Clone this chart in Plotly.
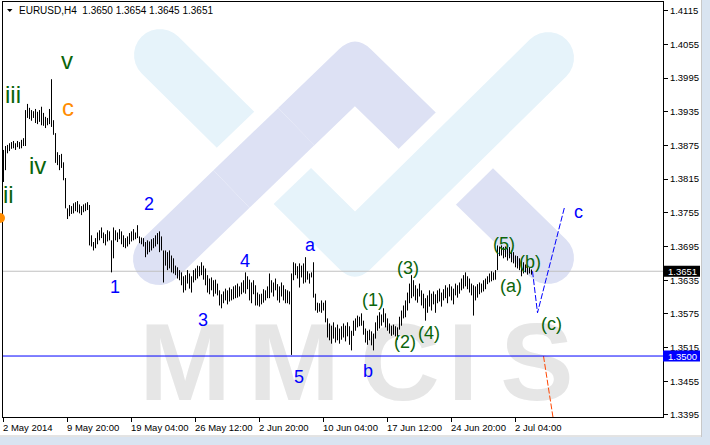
import math
import plotly.graph_objects as go

# ---------------- data ----------------
HIGH = [
    1.3867, 1.3874, 1.3876, 1.3879, 1.3881, 1.3883, 1.3879, 1.3883, 1.3881, 1.3885,
    1.3888, 1.3938, 1.3949, 1.3942, 1.3938, 1.3936, 1.3940, 1.3935, 1.3938, 1.3944,
    1.3933, 1.3926, 1.3924, 1.3940, 1.3993, 1.3920, 1.3897, 1.3863, 1.3858, 1.3860,
    1.3845, 1.3817, 1.3763, 1.3769, 1.3767, 1.3772, 1.3774, 1.3776, 1.3770, 1.3767,
    1.3770, 1.3772, 1.3774, 1.3769, 1.3715, 1.3703, 1.3710, 1.3720, 1.3724, 1.3729,
    1.3720, 1.3717, 1.3724, 1.3722, 1.3706, 1.3729, 1.3724, 1.3720, 1.3726, 1.3722,
    1.3715, 1.3710, 1.3713, 1.3719, 1.3722, 1.3726, 1.3720, 1.3733, 1.3713, 1.3711,
    1.3710, 1.3703, 1.3706, 1.3704, 1.3708, 1.3710, 1.3715, 1.3719, 1.3722, 1.3713,
    1.3688, 1.3688, 1.3685, 1.3688, 1.3679, 1.3674, 1.3661, 1.3658, 1.3653, 1.3649,
    1.3642, 1.3644, 1.3653, 1.3647, 1.3642, 1.3653, 1.3656, 1.3661, 1.3660, 1.3667,
    1.3661, 1.3656, 1.3644, 1.3638, 1.3640, 1.3635, 1.3636, 1.3629, 1.3617, 1.3610,
    1.3615, 1.3620, 1.3617, 1.3622, 1.3619, 1.3624, 1.3626, 1.3629, 1.3624, 1.3631,
    1.3635, 1.3649, 1.3642, 1.3636, 1.3631, 1.3635, 1.3626, 1.3613, 1.3610, 1.3611,
    1.3619, 1.3617, 1.3624, 1.3647, 1.3635, 1.3631, 1.3638, 1.3628, 1.3624, 1.3631,
    1.3626, 1.3619, 1.3617, 1.3615, 1.3647, 1.3667, 1.3665, 1.3660, 1.3665, 1.3661,
    1.3665, 1.3676, 1.3651, 1.3647, 1.3649, 1.3667, 1.3611, 1.3595, 1.3594, 1.3599,
    1.3595, 1.3599, 1.3567, 1.3558, 1.3554, 1.3560, 1.3551, 1.3556, 1.3549, 1.3553,
    1.3558, 1.3554, 1.3560, 1.3553, 1.3545, 1.3563, 1.3567, 1.3572, 1.3570, 1.3576,
    1.3563, 1.3549, 1.3545, 1.3547, 1.3544, 1.3540, 1.3560, 1.3572, 1.3578, 1.3574,
    1.3585, 1.3576, 1.3567, 1.3558, 1.3554, 1.3556, 1.3553, 1.3551, 1.3570, 1.3581,
    1.3590, 1.3599, 1.3613, 1.3629, 1.3644, 1.3635, 1.3626, 1.3620, 1.3629, 1.3617,
    1.3611, 1.3603, 1.3608, 1.3617, 1.3611, 1.3615, 1.3610, 1.3617, 1.3620, 1.3613,
    1.3619, 1.3626, 1.3622, 1.3628, 1.3624, 1.3620, 1.3629, 1.3626, 1.3631, 1.3638,
    1.3644, 1.3649, 1.3642, 1.3638, 1.3629, 1.3626, 1.3624, 1.3628, 1.3631, 1.3629,
    1.3635, 1.3638, 1.3642, 1.3647, 1.3651, 1.3649, 1.3653, 1.3697, 1.3695, 1.3697,
    1.3694, 1.3695, 1.3692, 1.3694, 1.3688, 1.3685, 1.3679, 1.3678, 1.3674, 1.3670,
    1.3667, 1.3663, 1.3661, 1.3658, 1.3654,
]
LOW = [
    1.3810, 1.3831, 1.3861, 1.3865, 1.3869, 1.3870, 1.3867, 1.3872, 1.3869, 1.3870,
    1.3874, 1.3874, 1.3924, 1.3922, 1.3919, 1.3924, 1.3915, 1.3913, 1.3917, 1.3911,
    1.3910, 1.3906, 1.3911, 1.3913, 1.3908, 1.3894, 1.3844, 1.3840, 1.3831, 1.3835,
    1.3813, 1.3763, 1.3744, 1.3749, 1.3753, 1.3754, 1.3758, 1.3756, 1.3754, 1.3751,
    1.3756, 1.3758, 1.3760, 1.3697, 1.3695, 1.3688, 1.3692, 1.3699, 1.3706, 1.3710,
    1.3701, 1.3697, 1.3704, 1.3706, 1.3649, 1.3674, 1.3706, 1.3703, 1.3708, 1.3699,
    1.3694, 1.3692, 1.3695, 1.3699, 1.3704, 1.3706, 1.3708, 1.3710, 1.3701, 1.3699,
    1.3695, 1.3676, 1.3681, 1.3685, 1.3688, 1.3692, 1.3695, 1.3699, 1.3685, 1.3688,
    1.3631, 1.3661, 1.3653, 1.3656, 1.3649, 1.3647, 1.3644, 1.3638, 1.3635, 1.3626,
    1.3613, 1.3617, 1.3629, 1.3620, 1.3613, 1.3631, 1.3635, 1.3638, 1.3642, 1.3644,
    1.3636, 1.3626, 1.3613, 1.3610, 1.3617, 1.3606, 1.3611, 1.3608, 1.3590, 1.3585,
    1.3594, 1.3599, 1.3592, 1.3597, 1.3599, 1.3601, 1.3603, 1.3604, 1.3606, 1.3610,
    1.3613, 1.3611, 1.3619, 1.3599, 1.3594, 1.3610, 1.3590, 1.3590, 1.3588, 1.3592,
    1.3595, 1.3599, 1.3603, 1.3603, 1.3613, 1.3606, 1.3617, 1.3599, 1.3595, 1.3606,
    1.3599, 1.3594, 1.3594, 1.3592, 1.3502, 1.3635, 1.3644, 1.3638, 1.3622, 1.3640,
    1.3629, 1.3631, 1.3636, 1.3629, 1.3640, 1.3604, 1.3581, 1.3577, 1.3579, 1.3577,
    1.3581, 1.3560, 1.3533, 1.3528, 1.3522, 1.3531, 1.3524, 1.3528, 1.3522, 1.3529,
    1.3533, 1.3526, 1.3535, 1.3520, 1.3510, 1.3536, 1.3545, 1.3551, 1.3553, 1.3554,
    1.3538, 1.3524, 1.3520, 1.3528, 1.3519, 1.3510, 1.3531, 1.3545, 1.3549, 1.3554,
    1.3560, 1.3551, 1.3545, 1.3540, 1.3536, 1.3538, 1.3535, 1.3529, 1.3547, 1.3554,
    1.3567, 1.3569, 1.3581, 1.3594, 1.3603, 1.3606, 1.3599, 1.3595, 1.3606, 1.3590,
    1.3585, 1.3563, 1.3577, 1.3588, 1.3581, 1.3592, 1.3577, 1.3594, 1.3597, 1.3588,
    1.3599, 1.3603, 1.3594, 1.3606, 1.3599, 1.3592, 1.3608, 1.3604, 1.3611, 1.3617,
    1.3620, 1.3624, 1.3619, 1.3613, 1.3608, 1.3572, 1.3599, 1.3604, 1.3610, 1.3613,
    1.3615, 1.3619, 1.3628, 1.3631, 1.3633, 1.3635, 1.3636, 1.3653, 1.3678, 1.3679,
    1.3674, 1.3676, 1.3670, 1.3674, 1.3667, 1.3665, 1.3658, 1.3656, 1.3653, 1.3642,
    1.3647, 1.3649, 1.3645, 1.3647, 1.3645,
]
TIME_TICK_IDX = [0, 32, 64, 96, 128, 160, 192, 224, 256]
TIME_TICK_TEXT = ["2 May 2014", "9 May 20:00", "19 May 04:00", "26 May 12:00",
                  "2 Jun 20:00", "10 Jun 04:00", "17 Jun 12:00", "24 Jun 20:00",
                  "2 Jul 04:00"]
PRICE_TICKS = [1.3395, 1.3455, 1.3515, 1.3575, 1.3635, 1.3695, 1.3755,
               1.3815, 1.3875, 1.3935, 1.3995, 1.4055, 1.4115]
TITLE = "EURUSD,H4  1.3650 1.3654 1.3645 1.3651"
BID_LEVEL = 1.3651
SUPPORT_LEVEL = 1.3500

# projections (bar index, price)
PROJ_C_X = [264.5, 267.0, 280.5]
PROJ_C_Y = [1.3651, 1.3577, 1.3765]
PROJ_DOWN_X = [270.0, 275.0]
PROJ_DOWN_Y = [1.3500, 1.3385]

# wave labels: text, bar index, price, color, size
GREEN = "#0b650b"
BLUE = "#0000ff"
ORANGE = "#ff8c00"
WAVE_LABELS = [
    ("v", 31.75, 1.4027, GREEN, 24),
    ("iii", 4.75, 1.3965, GREEN, 24),
    ("c", 32.25, 1.3942, ORANGE, 24),
    ("iv", 16.75, 1.3840, GREEN, 24),
    ("ii", 2.25, 1.3787, GREEN, 24),
    ("2", 72.75, 1.3771, BLUE, 18),
    ("1", 55.75, 1.3623, BLUE, 18),
    ("3", 99.75, 1.3564, BLUE, 18),
    ("4", 120.75, 1.3669, BLUE, 18),
    ("a", 153.25, 1.3698, BLUE, 18),
    ("5", 147.75, 1.3463, BLUE, 18),
    ("b", 182.25, 1.3474, BLUE, 18),
    ("c", 287.25, 1.3756, BLUE, 18),
    ("(1)", 184.75, 1.3600, GREEN, 18),
    ("(3)", 202.25, 1.3657, GREEN, 18),
    ("(2)", 200.75, 1.3525, GREEN, 18),
    ("(4)", 212.75, 1.3541, GREEN, 18),
    ("(5)", 250.25, 1.3699, GREEN, 18),
    ("(a)", 253.75, 1.3625, GREEN, 18),
    ("(b)", 263.25, 1.3668, GREEN, 18),
    ("(c)", 273.75, 1.3557, GREEN, 18),
]

# ---------------- layout geometry ----------------
W, H = 710, 445
ML, MR, MT, MB = 3, 47, 2, 28
PW, PH = W - ML - MR, H - MT - MB
X_RANGE = [-0.25, 329.75]
Y_RANGE = [1.33914, 1.41305]
YSCALE = PH / (Y_RANGE[1] - Y_RANGE[0])


def px_idx(px):
    return X_RANGE[0] + (px - ML) / PW * (X_RANGE[1] - X_RANGE[0])


def py_price(py):
    return Y_RANGE[1] - (py - MT) / YSCALE


def ppx(px):
    return (px - ML) / PW


def ppy(py):
    return (H - MB - py) / PH


def P(pt):
    return f"{ppx(pt[0]):.5f},{ppy(pt[1]):.5f}"


def unit(v):
    n = math.hypot(v[0], v[1])
    return (v[0] / n, v[1] / n)


def add(a, b, k=1.0):
    return (a[0] + k * b[0], a[1] + k * b[1])


def intersect(p, d, q, e):
    den = d[0] * e[1] - d[1] * e[0]
    t = ((q[0] - p[0]) * e[1] - (q[1] - p[1]) * e[0]) / den
    return (p[0] + t * d[0], p[1] + t * d[1])


def arc(center, a, b, r, n=14):
    pts = []
    for k in range(1, n + 1):
        f = math.pi * k / n
        v = (math.cos(f) * a[0] + math.sin(f) * b[0], math.cos(f) * a[1] + math.sin(f) * b[1])
        pts.append(add(center, v, r))
    return pts


def chevron(P0, P1, P2, hw, r):
    u1 = unit((P1[0] - P0[0], P1[1] - P0[1]))
    u2 = unit((P2[0] - P1[0], P2[1] - P1[1]))
    n1 = (-u1[1], u1[0])
    n2 = (-u2[1], u2[0])
    cross = u1[0] * u2[1] - u1[1] * u2[0]
    outer = -1 if cross > 0 else 1
    a0 = add(P0, n1, hw); a2 = add(P2, n2, hw)
    b0 = add(P0, n1, -hw); b2 = add(P2, n2, -hw)
    mA = intersect(a0, u1, a2, u2)
    mB = intersect(b0, u1, b2, u2)
    s = "M" + P(a0)
    if outer == 1:
        s += " L" + P(add(mA, u1, -r)) + " Q" + P(mA) + " " + P(add(mA, u2, r))
    else:
        s += " L" + P(mA)
    s += " L" + P(a2)
    for q in arc(P2, n2, u2, hw):
        s += " L" + P(q)
    if outer == -1:
        s += " L" + P(add(mB, u2, r)) + " Q" + P(mB) + " " + P(add(mB, u1, -r))
    else:
        s += " L" + P(mB)
    s += " L" + P(b0)
    for q in arc(P0, (-n1[0], -n1[1]), (-u1[0], -u1[1]), hw):
        s += " L" + P(q)
    return s + " Z"


def band(C, u, half_len, half_w):
    n = (-u[1], u[0])
    c1 = add(add(C, u, half_len), n, half_w)
    c2 = add(add(C, u, half_len), n, -half_w)
    c3 = add(add(C, u, -half_len), n, -half_w)
    c4 = add(add(C, u, -half_len), n, half_w)
    return "M" + P(c1) + " L" + P(c2) + " L" + P(c3) + " L" + P(c4) + " Z"


fig = go.Figure()

# ---------------- watermark (logo) ----------------
LAV = "#dde1f4"
LBL = "#e6f3fa"
HW, GAP, RAD = 26, 14, 22
lavP = [(159, 259), (355, 70), (548, 258)]
lbP = [(160, 55), (355, 248), (548, 58)]
shapes = []


def fill_path(path, color):
    shapes.append(dict(type="path", path=path, xref="paper", yref="paper",
                       fillcolor=color, line=dict(width=0), layer="below"))


fill_path(chevron(*lavP, HW, RAD), LAV)
uR = unit((lbP[2][0] - lbP[1][0], lbP[2][1] - lbP[1][1]))
crossR = intersect(lavP[1], unit((lavP[2][0] - lavP[1][0], lavP[2][1] - lavP[1][1])), lbP[1], uR)
fill_path(band(crossR, uR, 45, HW + GAP), "#ffffff")
fill_path(chevron(*lbP, HW, RAD), LBL)
uL = unit((lavP[1][0] - lavP[0][0], lavP[1][1] - lavP[0][1]))
crossL = intersect(lavP[0], uL, lbP[0], unit((lbP[1][0] - lbP[0][0], lbP[1][1] - lbP[0][1])))
fill_path(band(crossL, uL, 45, HW + GAP), "#ffffff")
fill_path(band(crossL, uL, 45, HW), LAV)

WM_LETTERS = ["M", "M", "C", "I", "S"]
WM_X = [185, 294, 400, 463, 537]
fig.add_trace(go.Scatter(
    x=[px_idx(v) for v in WM_X], y=[py_price(372)] * len(WM_X), text=WM_LETTERS,
    mode="text", textposition="middle center",
    textfont=dict(family="Liberation Sans, Arial", size=110, color="#e6e6e6", weight="bold"),
    hoverinfo="skip"))

# ---------------- bars ----------------
bx, by = [], []
for i, (h, l) in enumerate(zip(HIGH, LOW)):
    bx += [i, i, None]
    by += [l, h, None]
fig.add_trace(go.Scatter(x=bx, y=by, mode="lines", line=dict(color="black", width=1),
                         hoverinfo="skip"))

# projections
fig.add_trace(go.Scatter(x=PROJ_C_X, y=PROJ_C_Y, mode="lines",
                         line=dict(color="#0000ff", width=1, dash="6px,2px"), hoverinfo="skip"))
fig.add_trace(go.Scatter(x=PROJ_DOWN_X, y=PROJ_DOWN_Y, mode="lines",
                         line=dict(color="#ff4500", width=1, dash="6px,2px"), hoverinfo="skip"))

# horizontal levels
shapes.append(dict(type="line", xref="paper", yref="y", x0=0, x1=1, y0=BID_LEVEL, y1=BID_LEVEL,
                   line=dict(color="#c0c0c0", width=1), layer="below"))
shapes.append(dict(type="line", xref="paper", yref="y", x0=0, x1=1, y0=SUPPORT_LEVEL, y1=SUPPORT_LEVEL,
                   line=dict(color="#0000ff", width=1), layer="above"))

# price boxes on the scale
annotations = []
for lvl, col in [(BID_LEVEL, "#000000"), (SUPPORT_LEVEL, "#0000ff")]:
    shapes.append(dict(type="rect", xref="paper", yref="y", x0=ppx(663), x1=ppx(700),
                       y0=lvl - 5.5 / YSCALE, y1=lvl + 5.5 / YSCALE,
                       fillcolor=col, line=dict(width=0), layer="above"))
    annotations.append(dict(x=ppx(668), y=lvl, xref="paper", yref="y", text=f"{lvl:.4f}",
                            showarrow=False, xanchor="left", yanchor="middle", xshift=-2,
                            font=dict(family="Liberation Sans, Arial", size=9.5, color="white")))

# frame strips (terminal window)
shapes.append(dict(type="rect", xref="paper", yref="paper", x0=ppx(702), x1=ppx(711), y0=ppy(446),
                   y1=ppy(-1), fillcolor="#d9e4f1", line=dict(width=0)))
shapes.append(dict(type="rect", xref="paper", yref="paper", x0=ppx(-1), x1=ppx(711), y0=ppy(446),
                   y1=ppy(437), fillcolor="#d9e4f1", line=dict(width=0)))
shapes.append(dict(type="line", xref="paper", yref="paper", x0=ppx(-1), x1=ppx(702), y0=ppy(436),
                   y1=ppy(436), line=dict(color="#c8c8c8", width=1)))
shapes.append(dict(type="line", xref="paper", yref="paper", x0=ppx(701.5), x1=ppx(701.5), y0=ppy(437),
                   y1=ppy(-1), line=dict(color="#c8c8c8", width=1)))

# small triangle before title and clipped orange mark at left edge
shapes.append(dict(type="path", xref="paper", yref="paper",
                   path="M" + P((7, 9)) + " L" + P((12.5, 9)) + " L" + P((9.75, 12)) + " Z",
                   fillcolor="black", line=dict(width=0)))
shapes.append(dict(type="circle", xref="paper", yref="paper", x0=ppx(-5), x1=ppx(5),
                   y0=ppy(223), y1=ppy(213), fillcolor=ORANGE, line=dict(width=0)))

annotations.append(dict(x=ppx(17), y=ppy(10), xref="paper", yref="paper", text=TITLE,
                        showarrow=False, xanchor="left", yanchor="middle",
                        font=dict(family="Liberation Sans, Arial", size=10, color="black")))

for idx, txt in zip(TIME_TICK_IDX, TIME_TICK_TEXT):
    annotations.append(dict(x=idx, y=ppy(428), xref="x", yref="paper", text=txt,
                            showarrow=False, xanchor="left", yanchor="middle", xshift=-3,
                            font=dict(family="Liberation Sans, Arial", size=9.5, color="black")))

for txt, xi, pr, col, sz in WAVE_LABELS:
    annotations.append(dict(x=xi, y=pr, xref="x", yref="y", text=txt, showarrow=False,
                            xanchor="center", yanchor="middle",
                            font=dict(family="Liberation Sans, Arial", size=sz, color=col)))

fig.update_layout(
    width=W, height=H, margin=dict(l=ML, r=MR, t=MT, b=MB, pad=0),
    paper_bgcolor="white", plot_bgcolor="white", showlegend=False,
    shapes=shapes, annotations=annotations,
    xaxis=dict(range=X_RANGE, showgrid=False, zeroline=False, showline=True, mirror=True,
               linecolor="black", linewidth=1, ticks="outside", ticklen=4, tickcolor="black",
               tickvals=TIME_TICK_IDX, showticklabels=False, fixedrange=True),
    yaxis=dict(range=Y_RANGE, side="right", showgrid=False, zeroline=False, showline=True,
               mirror=True, linecolor="black", linewidth=1, ticks="outside", ticklen=4,
               tickcolor="black", tickvals=PRICE_TICKS, ticktext=[f"{v:.4f}" for v in PRICE_TICKS],
               tickfont=dict(family="Liberation Sans, Arial", size=9.5, color="black"),
               fixedrange=True),
)

fig.write_html("out.html", config={"displayModeBar": False},
               post_script="document.body.style.margin='0';document.body.style.overflow='hidden';")
